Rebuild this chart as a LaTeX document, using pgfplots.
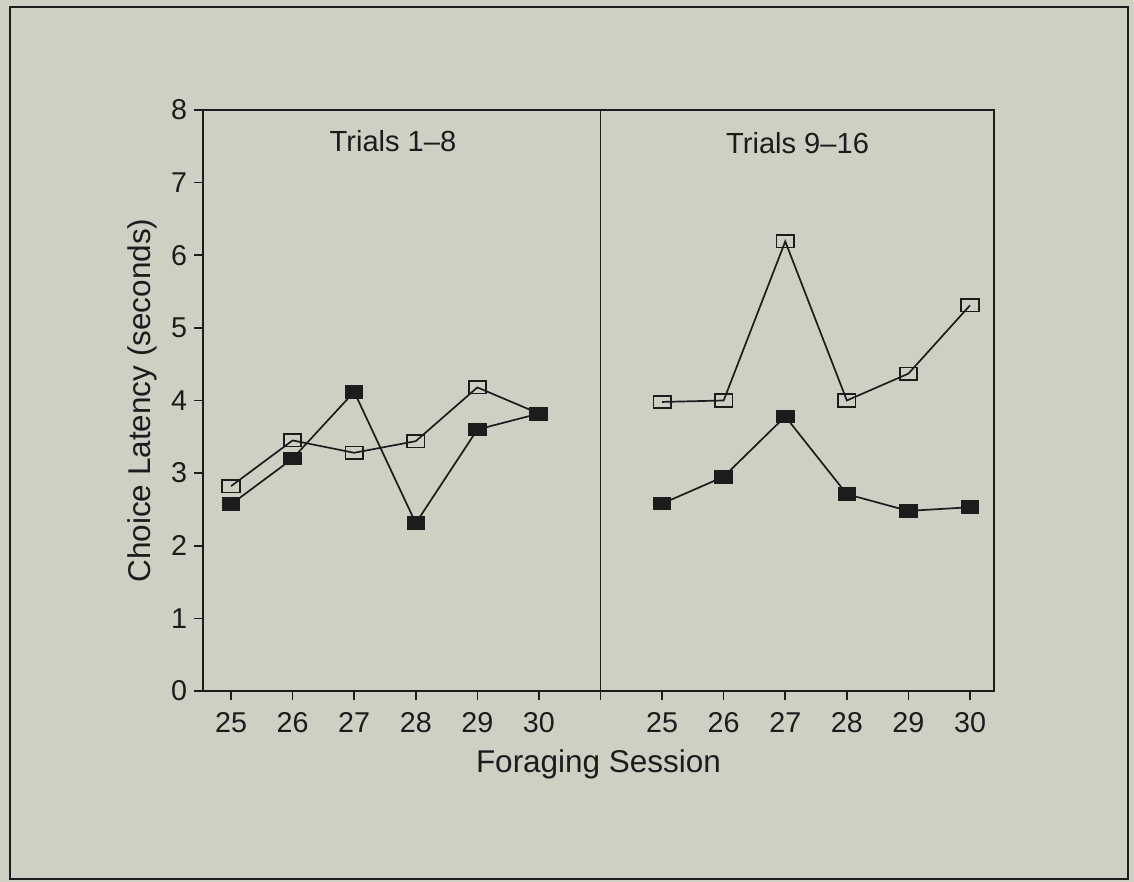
\documentclass[border=0pt]{standalone}
\usepackage{fontspec}
\setmainfont{Liberation Sans}
\usepackage{pgfplots}
\pgfplotsset{compat=1.18}

\definecolor{paper}{RGB}{207,208,196}
\definecolor{ink}{RGB}{28,28,28}

% sessions 25-30 of the second block are plotted at 32-37
\pgfplotsset{
  openline/.style={ink, line width=0.85bp, mark=square, mark size=3.1bp,
    mark options={xscale=1.4, line width=0.85bp, solid}},
  fullline/.style={ink, line width=0.85bp, mark=square*, mark size=3bp,
    mark options={xscale=1.4, fill=ink, solid}},
}

\begin{document}
\begin{tikzpicture}[x=1bp,y=1bp]
\fill[paper] (-101.5,-95.5) rectangle (465.5,345.5);
\draw[ink, line width=1bp] (-96.5,-94) rectangle (462.5,342);
\begin{axis}[
    at={(0,0)}, anchor=south west,
    scale only axis, width=395.5bp, height=290.5bp,
    xmin=24.545, xmax=37.39, ymin=0, ymax=8,
    axis line style={ink, line width=0.8bp},
    tick style={ink, line width=0.8bp},
    tick align=outside, major tick length=4.5bp,
    xtick pos=bottom, ytick pos=left,
    xtick={25,26,27,28,29,30,31,32,33,34,35,36,37},
    xticklabels={25,26,27,28,29,30,,25,26,27,28,29,30},
    ytick={0,1,...,8},
    /pgf/number format/assume math mode=true,
    tick label style={font=\fontsize{14.4}{17}\selectfont, text=ink},
    xticklabel style={yshift=-2.5bp},
    xlabel={Foraging Session},
    ylabel={Choice Latency (seconds)},
    every axis x label/.style={at={(axis description cs:0.5,-0.126)}, anchor=center,
      font=\fontsize{15.8}{19}\selectfont, text=ink},
    every axis y label/.style={at={(axis description cs:-0.077,0.5)}, anchor=center, rotate=90,
      font=\fontsize{15.8}{19}\selectfont, text=ink},
    clip=false,
]
\draw[ink, line width=0.8bp] (axis cs:31,0) -- (axis cs:31,8);
\node[font=\fontsize{14.6}{17}\selectfont, text=ink] at (axis cs:27.63,7.57) {Trials 1--8};
\node[font=\fontsize{14.6}{17}\selectfont, text=ink] at (axis cs:34.2,7.55) {Trials 9--16};

% open squares
\addplot[openline] coordinates {(25,2.82)(26,3.45)(27,3.28)(28,3.44)(29,4.18)(30,3.82)};
\addplot[openline] coordinates {(32,3.98)(33,4.00)(34,6.19)(35,4.00)(36,4.37)(37,5.31)};
% filled squares
\addplot[fullline] coordinates {(25,2.57)(26,3.20)(27,4.12)(28,2.31)(29,3.60)(30,3.82)};
\addplot[fullline] coordinates {(32,2.58)(33,2.95)(34,3.78)(35,2.71)(36,2.48)(37,2.53)};
\end{axis}
\end{tikzpicture}
\end{document}
